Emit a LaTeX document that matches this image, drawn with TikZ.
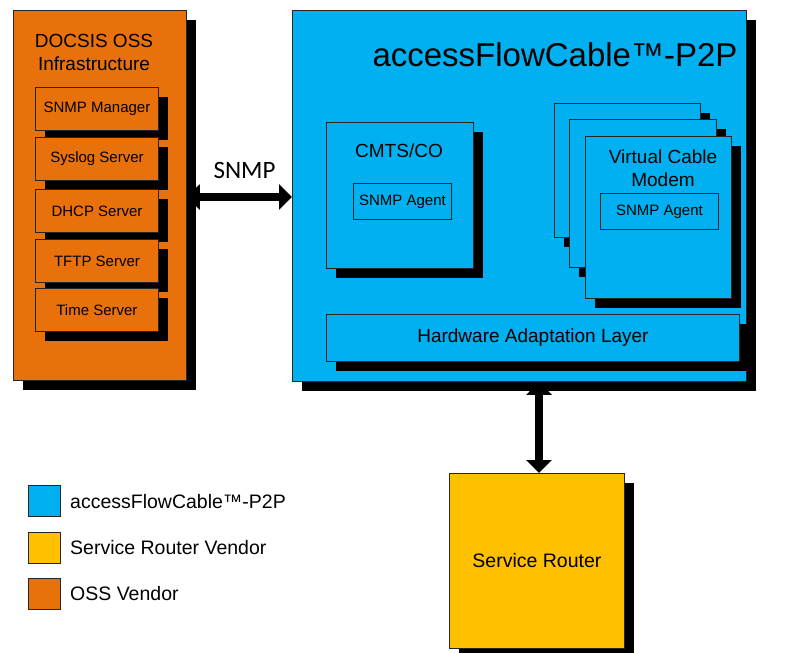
\documentclass[tikz,border=0pt]{standalone}
\usepackage{fontspec}
\setmainfont{Liberation Sans}
\newfontfamily\calibfont{Carlito}
\usetikzlibrary{shadows,arrows.meta,backgrounds}
\definecolor{ossorange}{RGB}{232,113,12}
\definecolor{afblue}{RGB}{0,176,240}
\definecolor{sryellow}{RGB}{255,192,0}
\newcommand{\fsz}[1]{\fontsize{#1}{#1*1.2}\selectfont}
\begin{document}
\begin{tikzpicture}[x=1pt,y=-1pt,
  plainbox/.style={draw=black!85, line width=0.9pt, inner sep=0pt, anchor=north west},
  box/.style={plainbox, drop shadow={shadow xshift=10pt, shadow yshift=-10pt, opacity=1, fill=black}},
  osssub/.style={box, fill=ossorange, minimum width=123pt, minimum height=43pt, font=\fontsize{15}{18}\selectfont},
  vcm/.style={box, fill=afblue},
  agent/.style={plainbox, font=\fontsize{15}{18}\selectfont},
  legsq/.style={plainbox, minimum width=32pt, minimum height=31pt},
  legtxt/.style={anchor=west, inner sep=0pt, font=\fontsize{19.5}{23}\selectfont},
  bigarr/.style={line width=8pt, {Triangle[width=25pt,length=13pt]}-{Triangle[width=25pt,length=13pt]}}
]
\useasboundingbox (0,0) rectangle (787,653);

% OSS side
\node[box, fill=ossorange, minimum width=173pt, minimum height=370pt] (oss) at (13,10) {};
\node[align=center, font=\fontsize{19}{23}\selectfont] (osst) at (94,52) {DOCSIS OSS\\Infrastructure};
\node[osssub] (snmpm) at (35,87) {SNMP Manager};
\node[osssub] (syslog) at (35,137) {Syslog Server};
\node[osssub] (dhcp) at (35,189) {DHCP Server};
\node[osssub] (tftp) at (35,239) {TFTP Server};
\node[osssub] (time) at (35,288) {Time Server};

% accessFlowCable box
\node[box, fill=afblue, minimum width=454pt, minimum height=371pt] (afc) at (292,10) {};
\node[font=\fontsize{33}{38}\selectfont] (afct) at (555,55) {accessFlowCable™-P2P};

\node[box, fill=afblue, minimum width=147pt, minimum height=146pt] (cmts) at (326,122) {};
\node[font=\fontsize{19}{23}\selectfont] (cmtst) at (399,151) {CMTS/CO};
\node[agent, minimum width=98pt, minimum height=36pt] (agent1) at (353,183) {SNMP Agent};

\node[vcm, minimum width=146pt, minimum height=134pt] (vcma) at (554,103) {};
\node[vcm, minimum width=147pt, minimum height=148pt] (vcmb) at (569,119) {};
\node[vcm, minimum width=146pt, minimum height=162pt] (vcmc) at (585,136) {};
\node[align=center, font=\fontsize{19}{23}\selectfont] (vcmt) at (663,168) {Virtual Cable\\Modem};
\node[agent, minimum width=118pt, minimum height=36pt] (agent2) at (600,193) {SNMP Agent};

\node[box, fill=afblue, minimum width=413pt, minimum height=47pt, font=\fontsize{19}{23}\selectfont] (hal) at (326,314) {Hardware Adaptation Layer};

% Service router
\node[box, fill=sryellow, minimum width=175pt, minimum height=175pt, font=\fontsize{19.5}{23}\selectfont] (router) at (449,473) {Service Router};

% legend
\node[legsq, fill=afblue] (lg1) at (28,485) {};
\node[legsq, fill=sryellow] (lg2) at (28,532) {};
\node[legsq, fill=ossorange] (lg3) at (28,578) {};
\node[legtxt] (lt1) at (70,502) {accessFlowCable™-P2P};
\node[legtxt] (lt2) at (70,548) {Service Router Vendor};
\node[legtxt] (lt3) at (70,594) {OSS Vendor};

% arrows
\coordinate (ay) at (0,197);
\coordinate (ax) at (539,0);
\node[font=\calibfont\fontsize{25}{30}\selectfont] (snmpl) at (244.5,170) {SNMP};
\begin{scope}[on background layer]
\draw[bigarr] (oss.east |- ay) -- (afc.west |- ay);
\draw[bigarr] (afc.south -| ax) -- (router.north -| ax);
\end{scope}
\end{tikzpicture}
\end{document}
